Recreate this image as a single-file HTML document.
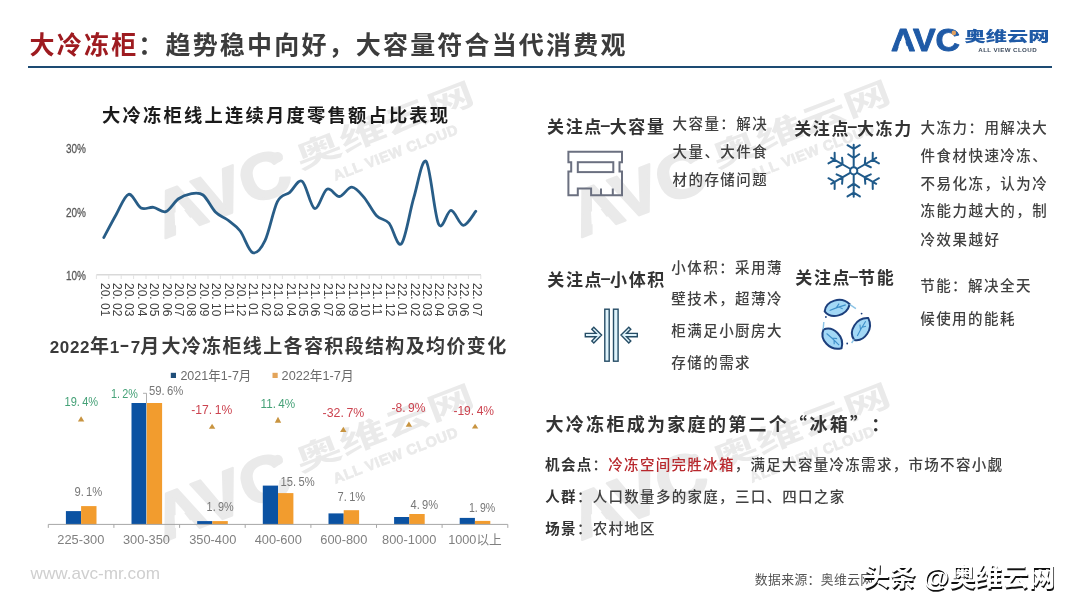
<!DOCTYPE html>
<html><head><meta charset="utf-8"><title>大冷冻柜</title>
<style>
html,body{margin:0;padding:0;background:#fff;}
#s{position:relative;width:1080px;height:608px;overflow:hidden;background:#fff;}
svg{position:absolute;left:0;top:0;}
text{white-space:pre;}
</style></head><body><div id="s">
<svg width="1080" height="608" viewBox="0 0 1080 608" font-family="'Liberation Sans','Noto Sans CJK SC',sans-serif">
<!-- watermarks -->
<g fill="#eaeaea" font-family="'Liberation Sans','Noto Sans CJK SC',sans-serif">
<g transform="translate(318.2,149.5) rotate(-21)">
<text x="-176" y="28" font-family="'Liberation Sans',sans-serif" font-weight="bold" font-size="64" textLength="141" lengthAdjust="spacingAndGlyphs" stroke="#eaeaea" stroke-width="2.2" stroke-linejoin="round">AVC</text>
<path fill="#fff" d="M-156.78,7.52 L-147.31,7.52 L-143.50,19.68 L-160.76,19.68 Z"/>
<circle cx="-40.5" cy="-7.3" r="5.2"/>
<text x="-24" y="12.5" font-size="31" font-weight="bold" textLength="189" lengthAdjust="spacingAndGlyphs">奥维云网</text>
<text x="5" y="35.5" font-family="'Liberation Sans',sans-serif" font-size="14.5" font-weight="bold" textLength="132" lengthAdjust="spacing" stroke="#eaeaea" stroke-width="0.7">ALL VIEW CLOUD</text>
</g><g transform="translate(318.2,452.3) rotate(-21)">
<text x="-176" y="28" font-family="'Liberation Sans',sans-serif" font-weight="bold" font-size="64" textLength="141" lengthAdjust="spacingAndGlyphs" stroke="#eaeaea" stroke-width="2.2" stroke-linejoin="round">AVC</text>
<path fill="#fff" d="M-156.78,7.52 L-147.31,7.52 L-143.50,19.68 L-160.76,19.68 Z"/>
<circle cx="-40.5" cy="-7.3" r="5.2"/>
<text x="-24" y="12.5" font-size="31" font-weight="bold" textLength="189" lengthAdjust="spacingAndGlyphs">奥维云网</text>
<text x="5" y="35.5" font-family="'Liberation Sans',sans-serif" font-size="14.5" font-weight="bold" textLength="132" lengthAdjust="spacing" stroke="#eaeaea" stroke-width="0.7">ALL VIEW CLOUD</text>
</g><g transform="translate(734.7,148.5) rotate(-21)">
<text x="-176" y="28" font-family="'Liberation Sans',sans-serif" font-weight="bold" font-size="64" textLength="141" lengthAdjust="spacingAndGlyphs" stroke="#eaeaea" stroke-width="2.2" stroke-linejoin="round">AVC</text>
<path fill="#fff" d="M-156.78,7.52 L-147.31,7.52 L-143.50,19.68 L-160.76,19.68 Z"/>
<circle cx="-40.5" cy="-7.3" r="5.2"/>
<text x="-24" y="12.5" font-size="31" font-weight="bold" textLength="189" lengthAdjust="spacingAndGlyphs">奥维云网</text>
<text x="5" y="35.5" font-family="'Liberation Sans',sans-serif" font-size="14.5" font-weight="bold" textLength="132" lengthAdjust="spacing" stroke="#eaeaea" stroke-width="0.7">ALL VIEW CLOUD</text>
</g><g transform="translate(734.7,451.3) rotate(-21)">
<text x="-176" y="28" font-family="'Liberation Sans',sans-serif" font-weight="bold" font-size="64" textLength="141" lengthAdjust="spacingAndGlyphs" stroke="#eaeaea" stroke-width="2.2" stroke-linejoin="round">AVC</text>
<path fill="#fff" d="M-156.78,7.52 L-147.31,7.52 L-143.50,19.68 L-160.76,19.68 Z"/>
<circle cx="-40.5" cy="-7.3" r="5.2"/>
<text x="-24" y="12.5" font-size="31" font-weight="bold" textLength="189" lengthAdjust="spacingAndGlyphs">奥维云网</text>
<text x="5" y="35.5" font-family="'Liberation Sans',sans-serif" font-size="14.5" font-weight="bold" textLength="132" lengthAdjust="spacing" stroke="#eaeaea" stroke-width="0.7">ALL VIEW CLOUD</text>
</g>
</g>
<!-- title -->
<text x="29.6" y="54.3" font-size="25" font-weight="bold" fill="#3c3c3c" letter-spacing="2.18"><tspan fill="#9e1b20">大冷冻柜</tspan>：趋势稳中向好，大容量符合当代消费观</text>
<rect x="28" y="66" width="1024" height="2" fill="#1d4b73"/>
<!-- logo -->
<text x="891" y="51.3" font-size="32" font-weight="bold" fill="#1f5aa6" textLength="69" lengthAdjust="spacingAndGlyphs" font-family="'Liberation Sans',sans-serif" stroke="#1f5aa6" stroke-width="0.9" stroke-linejoin="round">AVC</text>
<path fill="#fff" d="M900.27,41.06 L905.18,41.06 L907.04,47.14 L898.32,47.14 Z"/>
<circle cx="953.8" cy="32.9" r="2.3" fill="#e0a060"/>
<text x="964.5" y="40.9" font-size="13.8" font-weight="900" fill="#1f5aa6" textLength="85" lengthAdjust="spacingAndGlyphs">奥维云网</text>
<text x="978.3" y="51.6" font-size="6.2" font-weight="bold" fill="#3f4c5e" textLength="58.3" lengthAdjust="spacing" font-family="'Liberation Sans',sans-serif">ALL VIEW CLOUD</text>

<!-- chart 1 -->
<text x="102" y="121.6" font-size="18.3" font-weight="bold" fill="#1a1a1a" letter-spacing="2.21">大冷冻柜线上连续月度零售额占比表现</text>
<g font-size="13" fill="#595959" stroke="#595959" stroke-width="0.3" font-family="'Liberation Sans',sans-serif">
<text x="66" y="152.6" textLength="20" lengthAdjust="spacingAndGlyphs">30%</text>
<text x="66" y="216.6" textLength="20" lengthAdjust="spacingAndGlyphs">20%</text>
<text x="66" y="279.9" textLength="20" lengthAdjust="spacingAndGlyphs">10%</text>
</g>
<path d="M96.4,274.7H481" stroke="#d9d9d9" stroke-width="1.5" fill="none"/>
<path d="M96.4,275V279M108.8,275V279M121.2,275V279M133.6,275V279M146.0,275V279M158.4,275V279M170.8,275V279M183.2,275V279M195.6,275V279M208.0,275V279M220.4,275V279M232.8,275V279M245.2,275V279M257.6,275V279M270.0,275V279M282.4,275V279M294.8,275V279M307.2,275V279M319.6,275V279M332.0,275V279M344.4,275V279M356.8,275V279M369.2,275V279M381.6,275V279M394.0,275V279M406.4,275V279M418.8,275V279M431.2,275V279M443.6,275V279M456.0,275V279M468.4,275V279M480.8,275V279" stroke="#e3e3e3" stroke-width="1" fill="none"/>
<g font-size="12" fill="#404040" font-family="'Liberation Sans',sans-serif"><text transform="translate(100.6,283) rotate(90) scale(1,1.12)">20.<tspan dx="3.3">01</tspan></text><text transform="translate(113.0,283) rotate(90) scale(1,1.12)">20.<tspan dx="3.3">02</tspan></text><text transform="translate(125.4,283) rotate(90) scale(1,1.12)">20.<tspan dx="3.3">03</tspan></text><text transform="translate(137.8,283) rotate(90) scale(1,1.12)">20.<tspan dx="3.3">04</tspan></text><text transform="translate(150.2,283) rotate(90) scale(1,1.12)">20.<tspan dx="3.3">05</tspan></text><text transform="translate(162.6,283) rotate(90) scale(1,1.12)">20.<tspan dx="3.3">06</tspan></text><text transform="translate(175.0,283) rotate(90) scale(1,1.12)">20.<tspan dx="3.3">07</tspan></text><text transform="translate(187.4,283) rotate(90) scale(1,1.12)">20.<tspan dx="3.3">08</tspan></text><text transform="translate(199.8,283) rotate(90) scale(1,1.12)">20.<tspan dx="3.3">09</tspan></text><text transform="translate(212.2,283) rotate(90) scale(1,1.12)">20.<tspan dx="3.3">10</tspan></text><text transform="translate(224.6,283) rotate(90) scale(1,1.12)">20.<tspan dx="3.3">11</tspan></text><text transform="translate(237.0,283) rotate(90) scale(1,1.12)">20.<tspan dx="3.3">12</tspan></text><text transform="translate(249.4,283) rotate(90) scale(1,1.12)">21.<tspan dx="3.3">01</tspan></text><text transform="translate(261.8,283) rotate(90) scale(1,1.12)">21.<tspan dx="3.3">02</tspan></text><text transform="translate(274.2,283) rotate(90) scale(1,1.12)">21.<tspan dx="3.3">03</tspan></text><text transform="translate(286.6,283) rotate(90) scale(1,1.12)">21.<tspan dx="3.3">04</tspan></text><text transform="translate(299.0,283) rotate(90) scale(1,1.12)">21.<tspan dx="3.3">05</tspan></text><text transform="translate(311.4,283) rotate(90) scale(1,1.12)">21.<tspan dx="3.3">06</tspan></text><text transform="translate(323.8,283) rotate(90) scale(1,1.12)">21.<tspan dx="3.3">07</tspan></text><text transform="translate(336.2,283) rotate(90) scale(1,1.12)">21.<tspan dx="3.3">08</tspan></text><text transform="translate(348.6,283) rotate(90) scale(1,1.12)">21.<tspan dx="3.3">09</tspan></text><text transform="translate(361.0,283) rotate(90) scale(1,1.12)">21.<tspan dx="3.3">10</tspan></text><text transform="translate(373.4,283) rotate(90) scale(1,1.12)">21.<tspan dx="3.3">11</tspan></text><text transform="translate(385.8,283) rotate(90) scale(1,1.12)">21.<tspan dx="3.3">12</tspan></text><text transform="translate(398.2,283) rotate(90) scale(1,1.12)">22.<tspan dx="3.3">01</tspan></text><text transform="translate(410.6,283) rotate(90) scale(1,1.12)">22.<tspan dx="3.3">02</tspan></text><text transform="translate(423.0,283) rotate(90) scale(1,1.12)">22.<tspan dx="3.3">03</tspan></text><text transform="translate(435.4,283) rotate(90) scale(1,1.12)">22.<tspan dx="3.3">04</tspan></text><text transform="translate(447.8,283) rotate(90) scale(1,1.12)">22.<tspan dx="3.3">05</tspan></text><text transform="translate(460.2,283) rotate(90) scale(1,1.12)">22.<tspan dx="3.3">06</tspan></text><text transform="translate(472.6,283) rotate(90) scale(1,1.12)">22.<tspan dx="3.3">07</tspan></text></g>
<path d="M103.8,237.5 C105.9,233.7 112.1,221.7 116.2,214.5 C120.3,207.3 124.5,195.4 128.6,194.3 C132.7,193.2 136.9,205.8 141.0,208.0 C145.1,210.2 149.3,206.7 153.4,207.3 C157.5,207.9 161.7,213.0 165.8,211.6 C169.9,210.2 174.1,202.0 178.2,199.0 C182.3,196.0 186.5,194.5 190.6,193.8 C194.7,193.1 198.9,192.0 203.0,195.0 C207.1,198.0 211.3,207.8 215.4,212.0 C219.5,216.2 223.7,216.8 227.8,220.0 C231.9,223.2 236.1,225.6 240.2,231.0 C244.3,236.4 248.5,251.0 252.6,252.6 C256.7,254.2 260.9,249.2 265.0,240.7 C269.1,232.2 273.3,209.7 277.4,201.6 C281.5,193.5 285.7,195.7 289.8,192.3 C293.9,188.9 298.1,178.6 302.2,181.3 C306.3,184.0 310.5,207.2 314.6,208.5 C318.7,209.8 322.9,191.2 327.0,189.2 C331.1,187.2 335.3,196.8 339.4,196.5 C343.5,196.2 347.7,187.0 351.8,187.2 C355.9,187.4 360.1,192.8 364.2,197.6 C368.3,202.4 372.5,211.5 376.6,215.8 C380.7,220.1 384.9,218.5 389.0,223.2 C393.1,227.9 397.3,248.1 401.4,243.8 C405.5,239.6 409.7,211.4 413.8,197.7 C417.9,184.0 422.1,157.1 426.2,161.5 C430.3,165.9 434.5,216.0 438.6,224.2 C442.7,232.3 446.9,210.2 451.0,210.4 C455.1,210.6 459.3,225.2 463.4,225.3 C467.5,225.5 473.7,213.6 475.8,211.3" stroke="#285d87" stroke-width="2.8" fill="none" stroke-linejoin="round" stroke-linecap="round"/>

<!-- chart 2 -->
<text x="49.8" y="352.5" font-size="19" font-weight="bold" fill="#3a3a3a" letter-spacing="1.55"><tspan font-size="17" letter-spacing="0.6">2022</tspan>年<tspan font-size="17" letter-spacing="0" dx="-0.9">1</tspan><tspan font-family="'Noto Sans CJK SC',sans-serif" font-size="30" font-weight="400" letter-spacing="0" dy="1.2">-</tspan><tspan font-size="17" letter-spacing="0" dy="-1.2" dx="1.2">7</tspan>月<tspan dx="0.6" letter-spacing="1.36">大冷冻柜线上各容积段结构及均价变化</tspan></text>
<rect x="170.8" y="372.8" width="5.2" height="5.2" fill="#1f4e79"/>
<text x="180.4" y="380" font-size="13" fill="#6b6b6b" textLength="71" lengthAdjust="spacingAndGlyphs">2021年1-7月</text>
<rect x="272.5" y="372.8" width="5.2" height="5.2" fill="#e3a45a"/>
<text x="281.6" y="380" font-size="13" fill="#6b6b6b" textLength="72" lengthAdjust="spacingAndGlyphs">2022年1-7月</text>
<rect x="65.9" y="511.1" width="15.2" height="13.3" fill="#0b52a2"/><rect x="81.1" y="506.1" width="15.4" height="18.3" fill="#f29c2e"/><rect x="131.5" y="403.0" width="15.2" height="121.4" fill="#0b52a2"/><rect x="146.7" y="403.0" width="15.4" height="121.4" fill="#f29c2e"/><rect x="197.2" y="521.1" width="15.2" height="3.3" fill="#0b52a2"/><rect x="212.4" y="521.1" width="15.4" height="3.3" fill="#f29c2e"/><rect x="262.8" y="485.6" width="15.2" height="38.8" fill="#0b52a2"/><rect x="278.0" y="493.1" width="15.4" height="31.3" fill="#f29c2e"/><rect x="328.5" y="513.4" width="15.2" height="11.0" fill="#0b52a2"/><rect x="343.7" y="510.2" width="15.4" height="14.2" fill="#f29c2e"/><rect x="394.1" y="517.0" width="15.2" height="7.4" fill="#0b52a2"/><rect x="409.3" y="514.0" width="15.4" height="10.4" fill="#f29c2e"/><rect x="459.7" y="517.9" width="15.2" height="6.5" fill="#0b52a2"/><rect x="474.9" y="520.9" width="15.4" height="3.5" fill="#f29c2e"/>
<path d="M48.3,524.4H507.8M48.3,524.4V527.9M113.9,524.4V527.9M179.6,524.4V527.9M245.2,524.4V527.9M310.9,524.4V527.9M376.5,524.4V527.9M442.1,524.4V527.9M507.8,524.4V527.9" stroke="#a6a6a6" stroke-width="1" fill="none"/>
<path d="M143,393.3H146.5V403" stroke="#9a9a9a" stroke-width="0.8" fill="none"/>
<path d="M146.5,403V524" stroke="#c9c0ab" stroke-width="0.9" fill="none"/>
<g fill="#c89440"><path d="M81.1,416.3L84.3,421.5L77.9,421.5Z"/><path d="M212.1,423.7L215.3,428.7L208.9,428.7Z"/><path d="M278.0,416.7L281.2,422.8L274.8,422.8Z"/><path d="M343.3,426.7L346.5,432.0L340.1,432.0Z"/><path d="M408.9,421.5L412.1,426.7L405.7,426.7Z"/><path d="M475.1,423.7L478.3,428.5L471.9,428.5Z"/></g>
<g font-size="12.5" fill="#777" font-family="'Liberation Sans',sans-serif"><text x="74.4" y="496.1" textLength="27.9" lengthAdjust="spacingAndGlyphs">9.<tspan dx="2.6">1%</tspan></text><text x="148.9" y="394.8" textLength="34.4" lengthAdjust="spacingAndGlyphs">59.<tspan dx="2.6">6%</tspan></text><text x="206.6" y="511.4" textLength="27.0" lengthAdjust="spacingAndGlyphs">1.<tspan dx="2.6">9%</tspan></text><text x="280.5" y="486.2" textLength="34.1" lengthAdjust="spacingAndGlyphs">15.<tspan dx="2.6">5%</tspan></text><text x="337.6" y="500.5" textLength="27.6" lengthAdjust="spacingAndGlyphs">7.<tspan dx="2.6">1%</tspan></text><text x="410.5" y="509.2" textLength="27.6" lengthAdjust="spacingAndGlyphs">4.<tspan dx="2.6">9%</tspan></text><text x="468.9" y="511.8" textLength="26.3" lengthAdjust="spacingAndGlyphs">1.<tspan dx="2.6">9%</tspan></text></g>
<g font-size="12.5" font-family="'Liberation Sans',sans-serif"><text x="64.6" y="405.9" fill="#45a177" textLength="33.6" lengthAdjust="spacingAndGlyphs">19.<tspan dx="2.6">4%</tspan></text><text x="111.0" y="397.6" fill="#45a177" textLength="26.9" lengthAdjust="spacingAndGlyphs">1.<tspan dx="2.6">2%</tspan></text><text x="191.3" y="413.8" fill="#cc4450" textLength="40.9" lengthAdjust="spacingAndGlyphs">-17.<tspan dx="2.6">1%</tspan></text><text x="260.5" y="407.6" fill="#45a177" textLength="34.7" lengthAdjust="spacingAndGlyphs">11.<tspan dx="2.6">4%</tspan></text><text x="322.6" y="417.2" fill="#cc4450" textLength="41.7" lengthAdjust="spacingAndGlyphs">-32.<tspan dx="2.6">7%</tspan></text><text x="391.4" y="412.3" fill="#cc4450" textLength="34.1" lengthAdjust="spacingAndGlyphs">-8.<tspan dx="2.6">9%</tspan></text><text x="453.4" y="414.7" fill="#cc4450" textLength="40.7" lengthAdjust="spacingAndGlyphs">-19.<tspan dx="2.6">4%</tspan></text></g>
<g font-size="13" fill="#808080"><text x="57.3" y="543.6" textLength="47.1" lengthAdjust="spacingAndGlyphs">225-300</text><text x="122.9" y="543.6" textLength="47.1" lengthAdjust="spacingAndGlyphs">300-350</text><text x="189.2" y="543.6" textLength="47.1" lengthAdjust="spacingAndGlyphs">350-400</text><text x="254.7" y="543.6" textLength="47.1" lengthAdjust="spacingAndGlyphs">400-600</text><text x="320.3" y="543.6" textLength="47.1" lengthAdjust="spacingAndGlyphs">600-800</text><text x="382.1" y="543.6" textLength="54.2" lengthAdjust="spacingAndGlyphs">800-1000</text><text x="448.2" y="543.6" textLength="53.6" lengthAdjust="spacingAndGlyphs">1000以上</text></g>

<!-- right side -->
<g font-size="17" font-weight="bold" fill="#333">
<text x="547" y="132.9" letter-spacing="1.65">关注点<tspan font-family="'Noto Sans CJK SC',sans-serif" font-size="36" font-weight="300" letter-spacing="-1.44" dx="-3.8" dy="2.6">-</tspan><tspan dy="-2.6">大容量</tspan></text>
<text x="794.2" y="134.5" letter-spacing="1.65">关注点<tspan font-family="'Noto Sans CJK SC',sans-serif" font-size="36" font-weight="300" letter-spacing="-1.44" dx="-3.8" dy="2.6">-</tspan><tspan dy="-2.6">大冻力</tspan></text>
<text x="547.3" y="286.3" letter-spacing="1.65">关注点<tspan font-family="'Noto Sans CJK SC',sans-serif" font-size="36" font-weight="300" letter-spacing="-1.44" dx="-3.8" dy="2.6">-</tspan><tspan dy="-2.6">小体积</tspan></text>
<text x="795.3" y="283.9" letter-spacing="1.65">关注点<tspan font-family="'Noto Sans CJK SC',sans-serif" font-size="36" font-weight="300" letter-spacing="-1.44" dx="-3.8" dy="2.6">-</tspan><tspan dy="-2.6">节能</tspan></text>
</g>
<g font-size="14.5" fill="#404040" font-weight="500" letter-spacing="1.45">
<text x="672.5" y="129.2">大容量：解决</text>
<text x="672.5" y="157.3">大量、大件食</text>
<text x="672.5" y="185.4">材的存储问题</text>
<text x="920.6" y="133.0">大冻力：用解决大</text>
<text x="920.6" y="160.7">件食材快速冷冻、</text>
<text x="920.6" y="188.5">不易化冻，认为冷</text>
<text x="920.6" y="216.3">冻能力越大的，制</text>
<text x="920.6" y="245.2">冷效果越好</text>
<text x="671.3" y="272.9">小体积：采用薄</text>
<text x="671.3" y="303.9">壁技术，超薄冷</text>
<text x="671.3" y="336.4">柜满足小厨房大</text>
<text x="671.3" y="368">存储的需求</text>
<text x="920.2" y="290.6">节能：解决全天</text>
<text x="920.2" y="323.7">候使用的能耗</text>
</g>
<text x="545.5" y="431.4" font-size="18" font-weight="bold" fill="#333" letter-spacing="2.3">大冷冻柜成为家庭的第二个<tspan font-family="'Noto Sans CJK SC',sans-serif">“</tspan>冰箱<tspan font-family="'Noto Sans CJK SC',sans-serif">”</tspan><tspan dx="10">：</tspan></text>
<g font-size="14.5" fill="#404040" font-weight="500" letter-spacing="1.3">
<text x="545.1" y="470.2"><tspan font-weight="bold" fill="#333">机会点</tspan>：<tspan fill="#b8282d">冷冻空间完胜冰箱</tspan>，满足大容量冷冻需求，市场不容小觑</text>
<text x="545.3" y="502.2"><tspan font-weight="bold" fill="#333">人群</tspan>：人口数量多的家庭，三口、四口之家</text>
<text x="545.3" y="534.3"><tspan font-weight="bold" fill="#333">场景</tspan>：农村地区</text>
</g>
<text x="754.8" y="584.2" font-size="12.8" fill="#555" letter-spacing="0.4">数据来源：奥维云网</text>
<text x="30.5" y="579.3" font-size="17" fill="#cfcfcf" font-family="'Liberation Sans',sans-serif" textLength="129.5" lengthAdjust="spacingAndGlyphs">www.avc-mr.com</text>

<!-- icons -->

<g fill="none" stroke="#6b7080" stroke-width="2">
<path d="M568.4,151.8H622V162.2H619.5V171.6H622V195.3H591.1V188.4H577.8V195.3H568.4V171.6H571.2V162.2H568.4Z"/>
<rect x="577.8" y="162.2" width="35.5" height="9.9"/>
<path d="M601,188.4V195.3M612.8,188.4V195.3"/>
</g>
<g transform="translate(853.7,170.8)" stroke="#1f5a8a" stroke-width="2" fill="none" stroke-linecap="round">
<circle r="3.6"/>
<g transform="rotate(0)"><path d="M0,-4.6V-26M0,-21.9L-6.2,-25.6M0,-21.9L6.2,-25.6M0,-12.8L-5.5,-16.6M0,-12.8L5.5,-16.6"/></g><g transform="rotate(60)"><path d="M0,-4.6V-26M0,-21.9L-6.2,-25.6M0,-21.9L6.2,-25.6M0,-12.8L-5.5,-16.6M0,-12.8L5.5,-16.6"/></g><g transform="rotate(120)"><path d="M0,-4.6V-26M0,-21.9L-6.2,-25.6M0,-21.9L6.2,-25.6M0,-12.8L-5.5,-16.6M0,-12.8L5.5,-16.6"/></g><g transform="rotate(180)"><path d="M0,-4.6V-26M0,-21.9L-6.2,-25.6M0,-21.9L6.2,-25.6M0,-12.8L-5.5,-16.6M0,-12.8L5.5,-16.6"/></g><g transform="rotate(240)"><path d="M0,-4.6V-26M0,-21.9L-6.2,-25.6M0,-21.9L6.2,-25.6M0,-12.8L-5.5,-16.6M0,-12.8L5.5,-16.6"/></g><g transform="rotate(300)"><path d="M0,-4.6V-26M0,-21.9L-6.2,-25.6M0,-21.9L6.2,-25.6M0,-12.8L-5.5,-16.6M0,-12.8L5.5,-16.6"/></g>
</g>
<g stroke="#264d66" stroke-width="1.4" fill="#dff3fb">
<rect x="604.8" y="309.2" width="4.4" height="52"/>
<rect x="613.5" y="309.2" width="4.6" height="52"/>
<path d="M585.3,333.4H596L591.8,329.2L593.8,327.2L601.6,335.1L593.8,343L591.8,341L596,336.8H585.3Z"/>
<path d="M637.3,333.4H626.6L630.8,329.2L628.8,327.2L621,335.1L628.8,343L630.8,341L626.6,336.8H637.3Z"/>
</g>
<g transform="translate(837.2,307.8) rotate(-15.6)">
<path d="M-13,0 C-9,-10 7,-10.5 13,0 C7,10.5 -9,10 -13,0Z" fill="#a3d8f6" stroke="#1c3f7c" stroke-width="2"/>
<path d="M-8,0.5 Q0,-0.5 9,-0.5 M-1,-0.2 L3,-3.5 M2,-0.3 L5,2.5" stroke="#3e8fc9" stroke-width="1.1" fill="none"/>
</g><g transform="translate(861.2,329.0) rotate(-57.0)">
<path d="M-13,0 C-9,-10 7,-10.5 13,0 C7,10.5 -9,10 -13,0Z" fill="#a3d8f6" stroke="#1c3f7c" stroke-width="2"/>
<path d="M-8,0.5 Q0,-0.5 9,-0.5 M-1,-0.2 L3,-3.5 M2,-0.3 L5,2.5" stroke="#3e8fc9" stroke-width="1.1" fill="none"/>
</g><g transform="translate(832.5,338.9) rotate(46.0)">
<path d="M-13,0 C-9,-10 7,-10.5 13,0 C7,10.5 -9,10 -13,0Z" fill="#a3d8f6" stroke="#1c3f7c" stroke-width="2"/>
<path d="M-8,0.5 Q0,-0.5 9,-0.5 M-1,-0.2 L3,-3.5 M2,-0.3 L5,2.5" stroke="#3e8fc9" stroke-width="1.1" fill="none"/>
</g><g stroke="#8cc4e6" stroke-width="1.4" fill="none">
<path d="M849.6,304.4L855.9,308.6"/><path d="M854.2,339.4L851.6,343"/><path d="M823.2,329.1L823.8,322"/>
</g><g fill="#1c3f7c"><circle cx="825.9" cy="317" r="0.9"/><circle cx="861.6" cy="313.6" r="0.9"/><circle cx="847.2" cy="343.5" r="0.9"/></g>

<!-- toutiao watermark -->
<g font-size="26.5" font-weight="bold" font-family="'Liberation Sans','Noto Sans CJK SC',sans-serif">
<text x="863" y="585.6" fill="#111" transform="translate(0.9,2)">头条 @奥维云网</text>
<text x="863" y="585.6" fill="#fff">头条 @奥维云网</text>
</g>
</svg>
</div></body></html>
